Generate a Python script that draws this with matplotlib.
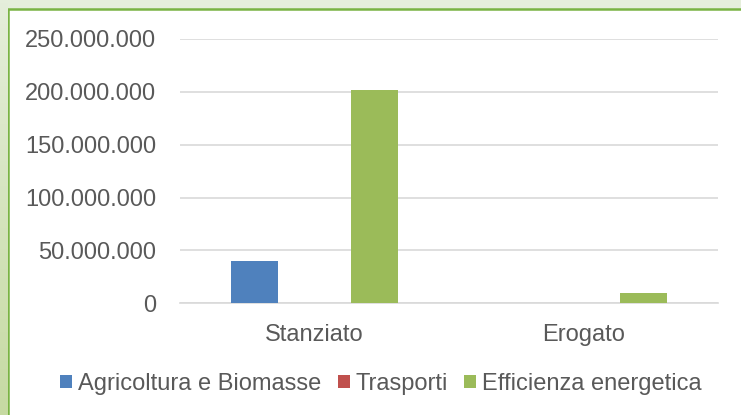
import numpy as np
import matplotlib
matplotlib.use("Agg")
import matplotlib.pyplot as plt
from matplotlib.patches import Patch, Rectangle
from matplotlib.ticker import FuncFormatter

categories = ["Stanziato", "Erogato"]
series = ["Agricoltura e Biomasse", "Trasporti", "Efficienza energetica"]
agricoltura = [40000000, 0]
trasporti = [0, 0]
efficienza = [202000000, 10000000]
colors = ["#4f81bd", "#c0504d", "#9bbb59"]

plt.rcParams['font.family'] = ['Liberation Sans', 'DejaVu Sans']
text_color = "#595959"

W, H = 741, 415
fig = plt.figure(figsize=(W / 100, H / 100), dpi=100)
fig.patch.set_facecolor("#e5eedb")

# left strip, a bit darker towards the bottom
strip = fig.add_axes([0, 0, 8 / W, 1])
grad = np.linspace(0, 1, 100).reshape(-1, 1)
strip.imshow(grad, aspect="auto", extent=[0, 1, 0, 1],
             cmap=matplotlib.colors.LinearSegmentedColormap.from_list(
                 "g", ["#c6daa2", "#e5eedb"]), origin="lower")
strip.axis("off")

# white chart area with green frame
frame = Rectangle((8 / W, -0.1), 1.2, 1 - 9 / H + 0.1, transform=fig.transFigure,
                  facecolor="white", edgecolor="#79b343", linewidth=1.8, zorder=-1)
fig.patches.append(frame)

x0, x1 = 180, 718
y_top, y_zero = 39, 303.3
ax = fig.add_axes([x0 / W, (H - y_zero) / H, (x1 - x0) / W, (y_zero - y_top) / H])
ax.set_facecolor("none")
ax.set_zorder(2)

x = np.arange(len(categories))
width = 0.175
step = 0.223
for i, (vals, c) in enumerate(zip([agricoltura, trasporti, efficienza], colors)):
    ax.bar(x + (i - 1) * step, vals, width=width, color=c, zorder=3)

ax.set_xlim(-0.5, 1.5)
ax.set_ylim(0, 250000000)
ax.set_yticks(np.arange(0, 250000001, 50000000))
ax.yaxis.set_major_formatter(FuncFormatter(lambda v, p: f"{v:,.0f}".replace(",", ".")))
ax.set_xticks(x)
ax.set_xticklabels(categories)
ax.grid(axis="y", color="#d9d9d9", linewidth=1.2, zorder=0)
for s in ["top", "right", "left"]:
    ax.spines[s].set_visible(False)
ax.spines["bottom"].set_color("#d9d9d9")
ax.spines["bottom"].set_linewidth(1.2)
ax.tick_params(axis="both", length=0, labelsize=17, colors=text_color)
ax.tick_params(axis="y", pad=17)
ax.tick_params(axis="x", pad=15)

handles = [Patch(facecolor=c) for c in colors]
fig.legend(handles, series, loc="center", bbox_to_anchor=(381 / W, 1 - 384 / H),
           ncol=3, frameon=False, fontsize=17, handlelength=0.5, handleheight=0.5,
           handletextpad=0.25, columnspacing=0.7, labelcolor=text_color,
           borderpad=0, borderaxespad=0)

fig.savefig("out.png", dpi=100, facecolor=fig.get_facecolor())
